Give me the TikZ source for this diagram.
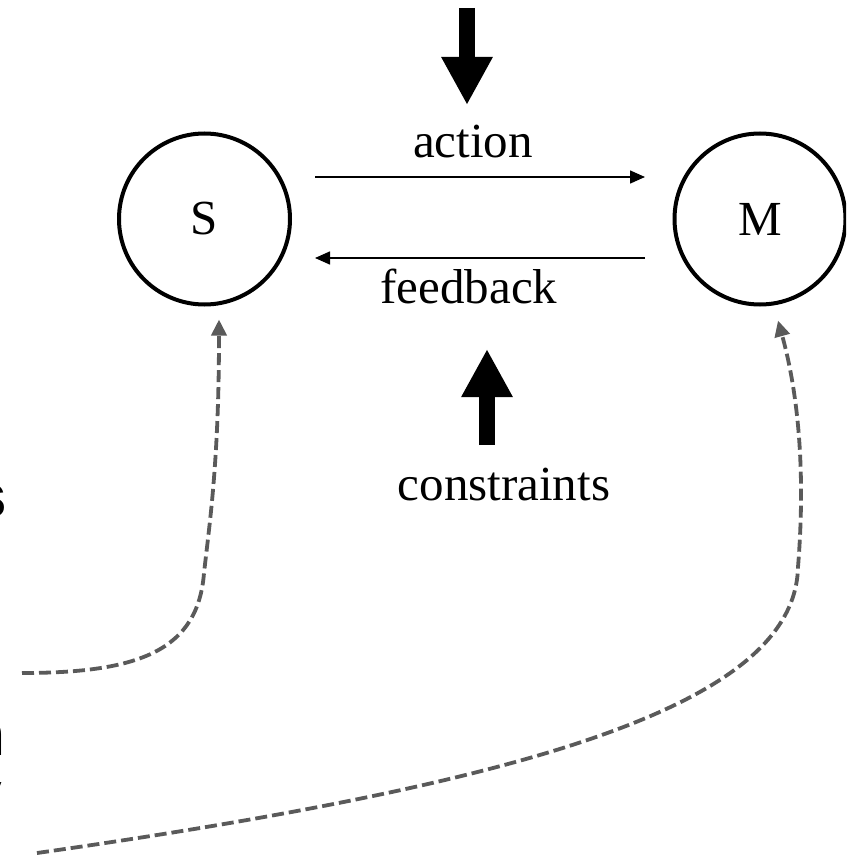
\documentclass[tikz,border=0pt]{standalone}
\usepackage{fontspec}
\setmainfont{Liberation Serif}
\newfontfamily\cutfont{Liberation Sans}
\usetikzlibrary{arrows.meta}
\definecolor{dashgray}{RGB}{90,90,90}

\begin{document}
\begin{tikzpicture}[x=0.5pt,y=-0.5pt,
    state/.style={circle, draw, line width=2pt, minimum size=85.5pt, inner sep=0pt,
                  font=\fontsize{24.5}{29}\selectfont},
    lbl/.style={inner sep=0pt, anchor=base, font=\fontsize{24.5}{29}\selectfont},
    flow/.style={line width=0.75pt, -{Triangle[length=7.5pt,width=6.5pt]}},
    push/.style={line width=8pt, -{Triangle[length=24pt,width=24pt]}},
    link/.style={dashgray, line width=1.9pt, dash pattern=on 6pt off 2.5pt,
                 -{Triangle[length=8pt,width=7.5pt]}},
    cut/.style={inner sep=0pt, anchor=base east}]
    \useasboundingbox (0,0) rectangle (846,856);
    \clip (0,0) rectangle (846,856);

    % the two states
    \node[state] (S) at (204.5,219) {S};
    \node[state] (M) at (760,219) {M};

    \node[lbl] (act) at (473,157) {action};
    \node[lbl] (fb) at (469,303) {feedback};
    \node[lbl] (con) at (504,500) {constraints};

    \draw[flow] ([xshift=11.5pt,yshift=21pt]S.east) -- ([xshift=-13.75pt,yshift=21pt]M.west);
    \draw[flow] ([xshift=-13.75pt,yshift=-19.5pt]M.west) -- ([xshift=11.5pt,yshift=-19.5pt]S.east);

    % heavy arrows
    \coordinate (pushtop) at (467,8);
    \coordinate (pushdown) at (467,105);
    \coordinate (pushbase) at (487,445);
    \coordinate (pushup) at (487,349);
    \draw[push] (pushtop) -- (pushdown);
    \draw[push] (pushbase) -- (pushup);

    % cut-off text at the left edge
    \node[cut, font=\cutfont\bfseries\fontsize{31}{36}\selectfont] (frag1) at (7,517) {s};
    \node[cut, font=\cutfont\bfseries\fontsize{31}{36}\selectfont] (frag2) at (6,755) {n};
    \node[cut, font=\cutfont\fontsize{17}{20}\selectfont] (frag3) at (2,800) {v};

    % dashed links
    \coordinate (d1) at (22,673);
    \coordinate (d2) at (37,853);
    \draw[link] (d1) .. controls (140,673) and (198,650) .. (204,573)
                     .. controls (210,520) and (219,460) .. ([xshift=7.25pt,yshift=-6.5pt]S.south);
    \draw[link] (d2) .. controls (550,780) and (795,700) .. (798,567)
                     .. controls (805,480) and (800,400) .. ([xshift=9pt,yshift=-7pt]M.south);
\end{tikzpicture}
\end{document}
